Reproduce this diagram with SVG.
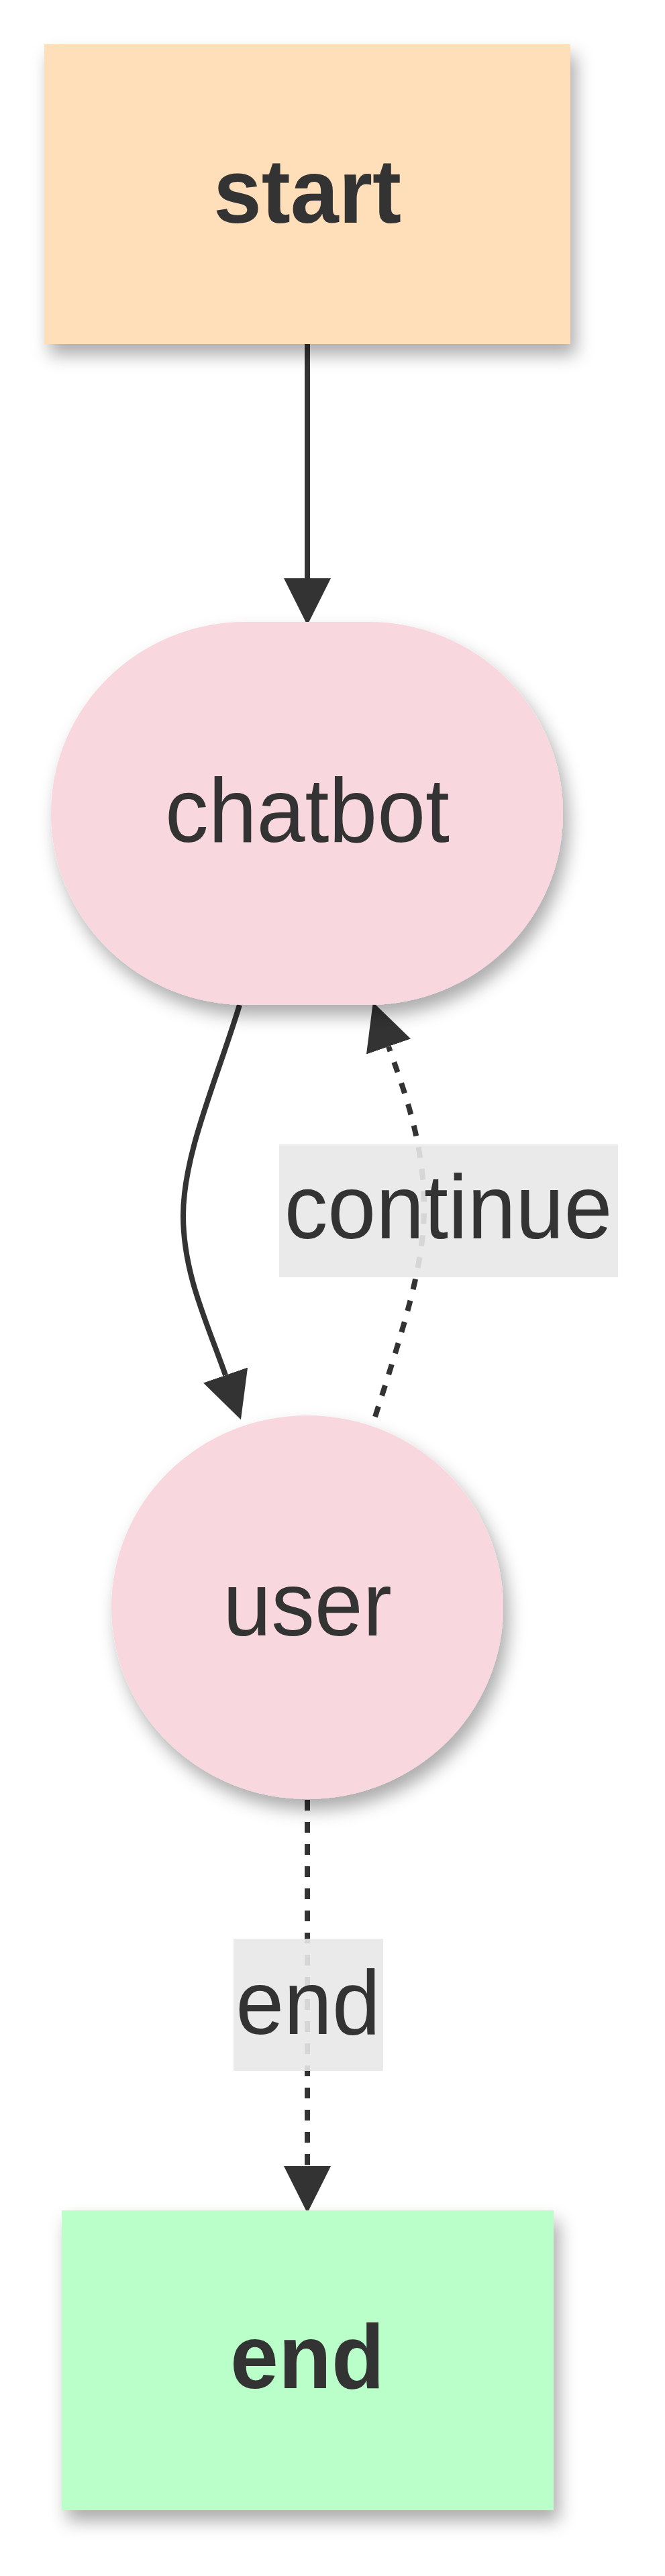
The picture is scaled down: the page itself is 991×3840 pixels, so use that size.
<svg xmlns="http://www.w3.org/2000/svg" width="991" height="3840" viewBox="0 0 991 3840">
<style>
.lbl{font-family:"Liberation Sans",Arial,sans-serif;font-size:128px;fill:#333;text-anchor:middle}
.bold{font-weight:bold}
.edge{fill:none;stroke:#333;stroke-width:8}
.dash{stroke-dasharray:16 17}
.elbl{fill:#e8e8e8;fill-opacity:0.9}
.node{filter:url(#shadow)}
</style>
<defs>
<filter id="shadow" x="-20%" y="-20%" width="140%" height="160%">
<feDropShadow dx="8" dy="16" stdDeviation="13" flood-color="#000" flood-opacity="0.33"/>
</filter>
<marker id="arrow" markerUnits="userSpaceOnUse" markerWidth="70" markerHeight="70" viewBox="0 -33 66 66" refX="0" refY="0" orient="auto">
<path d="M0,-33 L66,0 L0,33 Z" fill="#333"/>
</marker>
</defs>
<rect width="991" height="3840" fill="#fff"/>
<g id="connectors">
<path class="edge" d="M458,513 L458,862" marker-end="url(#arrow)"/>
<path class="edge" d="M357,1498 C323,1610 273,1720 273,1812 C273,1900 310,1975 336,2050" marker-end="url(#arrow)"/>
<path class="edge dash" d="M559,2112 C608,1960 632,1880 632,1800 C632,1700 600,1620 579,1560" marker-end="url(#arrow)"/>
<path class="edge dash" d="M458,2683 L458,3229" marker-end="url(#arrow)"/>
<g id="label-continue">
<rect class="elbl" x="416" y="1706" width="505" height="198"/>
<text class="lbl" transform="translate(668,1846) scale(1.01,1.06)">continue</text>
</g>
<g id="label-end">
<rect class="elbl" x="348" y="2890" width="223" height="197"/>
<text class="lbl" transform="translate(459,3032) scale(1.01,1.06)">end</text>
</g>
</g>
<g id="node-start">
<rect class="node" x="66" y="66" width="784" height="447" fill="#ffdfba"/>
<text class="lbl bold" transform="translate(458,332) scale(1.01,1.06)">start</text>
</g>
<g id="node-chatbot">
<rect class="node" x="76" y="927" width="763" height="571" rx="290" ry="285" fill="#f9d7de"/>
<text class="lbl" transform="translate(458,1255) scale(1.01,1.06)">chatbot</text>
</g>
<g id="node-user">
<ellipse class="node" cx="458" cy="2396" rx="292" ry="286" fill="#f9d7de"/>
<text class="lbl" transform="translate(458,2438) scale(1.01,1.06)">user</text>
</g>
<g id="node-end">
<rect class="node" x="92" y="3295" width="733" height="447" fill="#baffc9"/>
<text class="lbl bold" transform="translate(458,3560) scale(1.01,1.06)">end</text>
</g>
</svg>
